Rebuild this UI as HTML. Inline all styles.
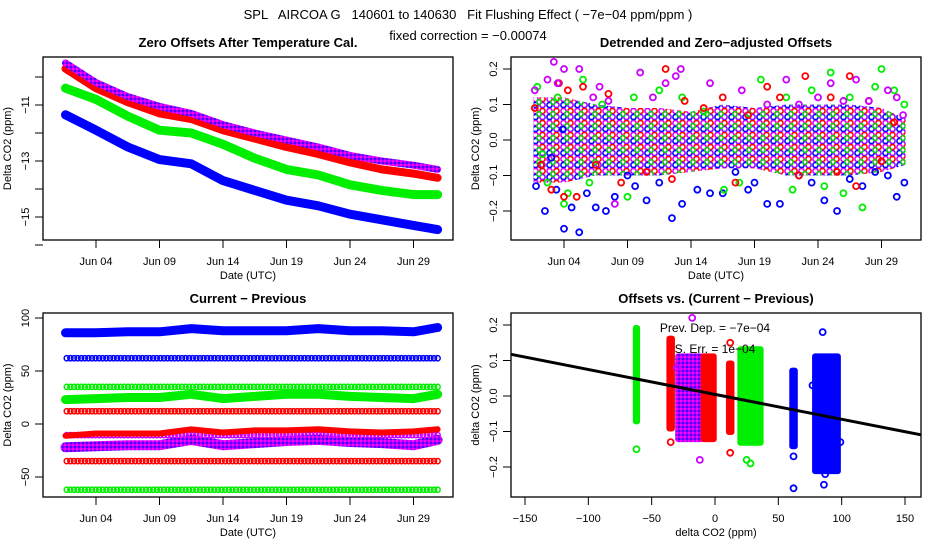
<!DOCTYPE html>
<html><head><meta charset="utf-8">
<style>
html,body{margin:0;padding:0;background:#fff;}
svg{display:block;font-family:"Liberation Sans",sans-serif;}
</style></head>
<body>
<svg id="chart" width="936" height="540" viewBox="0 0 936 540" xmlns="http://www.w3.org/2000/svg">
<defs>
<pattern id="purp" width="4" height="4" patternUnits="userSpaceOnUse">
<rect width="4" height="4" fill="#b000ff"/><rect width="2" height="2" fill="#ff00ff"/><rect x="2" y="2" width="2" height="2" fill="#4a00ff"/>
</pattern>
<pattern id="cloud" width="14" height="12" patternUnits="userSpaceOnUse">
<rect width="14" height="12" fill="#fff"/>
<circle cx="3.5" cy="3" r="2.6" fill="none" stroke="#cc00ff" stroke-width="1.6"/>
<circle cx="10.5" cy="3" r="2.6" fill="none" stroke="#ff0000" stroke-width="1.6"/>
<circle cx="3.5" cy="9" r="2.6" fill="none" stroke="#0000ff" stroke-width="1.6"/>
<circle cx="10.5" cy="9" r="2.6" fill="none" stroke="#9900ff" stroke-width="1.6"/>
<circle cx="7" cy="6" r="2.4" fill="none" stroke="#00dd00" stroke-width="1.4"/>
</pattern>
</defs>
<text x="468" y="19" font-size="13" text-anchor="middle" xml:space="preserve">SPL   AIRCOA G   140601 to 140630   Fit Flushing Effect ( −7e−04 ppm/ppm )</text>
<text x="468" y="40" font-size="13" text-anchor="middle">fixed correction = −0.00074</text>
<g id="g"></g>
</svg>
<script>
// ---------- Panel 1: Zero offsets after temperature cal ----------
const p1Days = [1.6, 4, 6.5, 9, 11.5, 14, 16.5, 19, 21.5, 24, 26.5, 29, 30.9];
const p1Purple = [-9.5, -10.2, -10.7, -11.05, -11.3, -11.7, -12.0, -12.25, -12.5, -12.8, -13.0, -13.15, -13.3];
const p1Red = [-9.7, -10.4, -10.9, -11.3, -11.5, -11.9, -12.2, -12.5, -12.75, -13.05, -13.3, -13.45, -13.6];
const p1Green = [-10.4, -10.8, -11.4, -11.9, -12.0, -12.4, -12.9, -13.3, -13.5, -13.85, -14.05, -14.2, -14.2];
const p1Blue = [-11.35, -11.9, -12.5, -12.95, -13.1, -13.7, -14.05, -14.4, -14.6, -14.9, -15.1, -15.3, -15.45];
const p1YTicks = [-16, -15, -14, -13, -12, -11, -10];
const p1YLabels = ["", "−15", "", "−13", "", "−11", ""];
const dateTicks = [4, 9, 14, 19, 24, 29];
const dateLabels = ["Jun 04", "Jun 09", "Jun 14", "Jun 19", "Jun 24", "Jun 29"];

// ---------- Panel 2: Detrended ----------
const cloudDays = [1.6, 4, 6.5, 9, 11.5, 14, 16.5, 19, 21.5, 24, 26.5, 29, 30.9];
const cloudHi = [0.12, 0.12, 0.1, 0.09, 0.09, 0.08, 0.1, 0.09, 0.1, 0.1, 0.1, 0.09, 0.06];
const cloudLo = [-0.12, -0.12, -0.1, -0.1, -0.1, -0.09, -0.08, -0.08, -0.1, -0.1, -0.1, -0.09, -0.07];
const blueD = [1.8,2.2,2.5,3.0,3.4,3.9,4.0,4.6,5.2,5.8,6.5,7.3,8.0,9.0,9.6,10.5,11.5,12.5,13.3,14.5,15.5,16.5,17.5,18.5,19.0,20.0,21.0,22.5,23.5,24.5,25.5,26.5,27.5,28.5,29.5,30.2,30.8];
const blueV = [-0.13,-0.07,-0.2,-0.05,-0.14,0.03,-0.25,-0.19,-0.26,-0.15,-0.19,-0.2,-0.16,-0.1,-0.13,-0.17,-0.12,-0.22,-0.18,-0.14,-0.15,-0.15,-0.09,-0.14,-0.12,-0.18,-0.18,-0.1,-0.12,-0.17,-0.2,-0.11,-0.13,-0.09,-0.1,-0.16,-0.12];
const greenD = [1.9,2.3,2.7,3.5,4.0,4.3,5.5,6.0,7.0,9.0,9.5,11.5,13.3,15.0,16.6,17.8,19.5,21.5,22.0,23.5,24.5,25.0,26.0,26.5,27.5,28.5,29.0,30.0,30.8];
const greenV = [0.15,-0.04,-0.12,0.12,-0.18,-0.15,0.17,-0.12,0.1,-0.16,0.12,0.14,0.12,0.08,-0.14,-0.12,0.17,0.12,-0.14,0.14,-0.13,0.19,-0.15,0.12,-0.19,0.15,0.2,0.14,0.1];
const redD = [1.7,2.2,3.0,3.6,4.0,4.3,5.0,5.5,6.5,7.5,8.5,10.5,12.0,12.5,13.5,15.0,16.5,17.5,18.5,20.0,21.0,22.5,23.0,25.0,25.5,26.5,27.0,28.0,29.0,30.0];
const redV = [0.09,-0.07,-0.14,0.16,-0.16,0.14,-0.16,0.15,-0.07,0.13,-0.12,-0.09,0.2,-0.11,0.11,0.09,0.12,-0.12,0.07,0.15,0.12,-0.1,0.18,0.12,-0.09,0.18,-0.13,0.11,-0.06,0.05];
const purpleD = [1.7,2.7,3.2,3.5,4.0,5.2,6.3,6.8,7.5,8.0,10.0,11.0,12.0,12.8,13.2,15.5,18.0,20.0,21.5,22.5,24.0,25.0,26.0,27.0,28.0,29.5,30.2,30.7];
const purpleV = [0.14,0.17,0.22,0.16,0.2,0.2,0.12,0.15,0.11,-0.18,0.19,0.12,0.16,0.18,0.2,0.16,0.14,0.1,0.17,0.1,0.12,0.16,0.11,0.17,0.11,0.14,0.12,0.07];
const p2YTicks = [-0.2, -0.1, 0.0, 0.1, 0.2];
const p2YLabels = ["−0.2", "−0.1", "0.0", "0.1", "0.2"];

// ---------- Panel 3: Current - Previous ----------
const p3Days = [1.6, 4, 6.5, 9, 11.5, 14, 16.5, 19, 21.5, 24, 26.5, 29, 30.9];
const p3BlueWavy = [86, 86, 87, 87, 90, 88, 88, 88, 90, 88, 88, 87, 91];
const p3GreenWavy = [23, 24, 25, 25, 28, 24, 26, 28, 28, 26, 25, 24, 28];
const p3RedWavy = [-11, -9, -9, -9, -5, -8, -6, -6, -5, -7, -8, -7, -5];
const p3PurpleWavy = [-22, -21, -20, -20, -15, -20, -18, -16, -15, -17, -18, -20, -15];
const p3ConstLevels = [62, 35, 12, -10.5, -35, -62];
const p3ConstColors = ["#0000ff", "#00ee00", "#ff0000", "#cc00ff", "#ff0000", "#00ee00"];
const p3YTicks = [-50, 0, 50, 100];
const p3YLabels = ["−50", "0", "50", "100"];

// ---------- Panel 4: Offsets vs (Current - Previous) ----------
const clusterX = [-62, -35, -20, -5, 12, 28, 62, 88];
const clusterSpread = [1, 2, 18, 8, 2, 16, 2, 18];
const clusterLo = [-0.08, -0.1, -0.13, -0.13, -0.11, -0.14, -0.15, -0.22];
const clusterHi = [0.2, 0.17, 0.12, 0.12, 0.1, 0.14, 0.08, 0.12];
const clusterColor = ["#00ee00", "#ff0000", "url(#purp)", "#ff0000", "#ff0000", "#00ee00", "#0000ff", "#0000ff"];
const outX = [-62, -35, -30, -12, -18, 12, 12, 25, 28, 62, 62, 85, 86, 87, 99, 77];
const outY = [-0.15, -0.13, 0.08, -0.18, 0.22, -0.16, 0.15, -0.18, -0.19, -0.17, -0.26, 0.18, -0.25, -0.22, -0.13, 0.03];
const outC = ["#00ee00","#ff0000","#cc00ff","#cc00ff","#cc00ff","#ff0000","#ff0000","#00ee00","#00ee00","#0000ff","#0000ff","#0000ff","#0000ff","#0000ff","#0000ff","#0000ff"];
const fitSlope = -7e-4;
const fitIntercept = 0.004;
const p4XTicks = [-150, -100, -50, 0, 50, 100, 150];
const p4XLabels = ["−150", "−100", "−50", "0", "50", "100", "150"];
const p4YTicks = [-0.2, -0.1, 0.0, 0.1, 0.2];
const p4YLabels = ["−0.2", "−0.1", "0.0", "0.1", "0.2"];

const NS = "http://www.w3.org/2000/svg";
const G = document.getElementById("g");
function mk(tag, attrs, parent) {
  const e = document.createElementNS(NS, tag);
  for (const k in attrs) e.setAttribute(k, attrs[k]);
  (parent || G).appendChild(e);
  return e;
}
function dateX(off) { return d => off + 96 + (d - 4) * 12.7; }
function lin(d0, d1, r0, r1) { return v => r0 + (v - d0) / (d1 - d0) * (r1 - r0); }

function frame(name, x0, y0, x1, y1, title, xlab, ylab) {
  const g = mk("g", {});
  
  
  const r = mk("rect", {x: x0, y: y0, width: x1 - x0, height: y1 - y0, fill: "none", stroke: "#000", "stroke-width": 1.3}, g);
  
  
  const t = mk("text", {x: (x0 + x1) / 2, y: y0 - 10, "font-size": 13, "font-weight": "bold", "text-anchor": "middle"}, g);
  t.textContent = title;
  
  
  const xl = mk("text", {x: (x0 + x1) / 2, y: y1 + 39, "font-size": 11, "text-anchor": "middle"}, g);
  xl.textContent = xlab;
  
  
  const cy = (y0 + y1) / 2;
  const yl = mk("text", {x: x0 - 32, y: cy, "font-size": 11, "text-anchor": "middle", transform: `rotate(-90 ${x0 - 32} ${cy})`}, g);
  yl.textContent = ylab;
  
  
  return g;
}
function xAxis(g, ticks, labels, sx, y1) {
  ticks.forEach((v, i) => {
    const x = sx(v);
    mk("line", {x1: x, x2: x, y1: y1, y2: y1 + 8, stroke: "#000"}, g);
    const t = mk("text", {x: x, y: y1 + 25, "font-size": 11, "text-anchor": "middle"}, g);
    t.textContent = labels[i];
    
    
  });
}
function yAxis(g, ticks, labels, sy, x0) {
  ticks.forEach((v, i) => {
    const y = sy(v);
    mk("line", {x1: x0 - 8, x2: x0, y1: y, y2: y, stroke: "#000"}, g);
    if (labels[i]) {
      const t = mk("text", {x: x0 - 14, y: y, "font-size": 11, "text-anchor": "middle", transform: `rotate(-90 ${x0 - 14} ${y})`}, g);
      t.textContent = labels[i];
      
      
    }
  });
}
function band(g, name, xs, ys, sx, sy, color, w) {
  const pts = xs.map((d, i) => sx(d).toFixed(1) + "," + sy(ys[i]).toFixed(1)).join(" ");
  const p = mk("polyline", {points: pts, fill: "none", stroke: color, "stroke-width": w, "stroke-linejoin": "round", "stroke-linecap": "round"}, g);
  
  
}
function pts(g, name, xs, ys, sx, sy, color) {
  xs.forEach((d, i) => {
    const c = mk("circle", {cx: sx(d), cy: sy(ys[i]), r: 3, fill: "none", stroke: color, "stroke-width": 1.8}, g);
    
    
  });
}

// Panel 1
{
  const x0 = 43, x1 = 453, y0 = 57, y1 = 240;
  const sx = dateX(0), sy = lin(-11, -13, 105, 161);
  const g = frame("panel-zero-offsets", x0, y0, x1, y1, "Zero Offsets After Temperature Cal.", "Date (UTC)", "Delta CO2 (ppm)");
  xAxis(g, dateTicks, dateLabels, sx, y1);
  yAxis(g, p1YTicks, p1YLabels, sy, x0);
  band(g, "series-blue", p1Days, p1Blue, sx, sy, "#0000ff", 9);
  band(g, "series-green", p1Days, p1Green, sx, sy, "#00ee00", 9);
  band(g, "series-red", p1Days, p1Red, sx, sy, "#ff0000", 8);
  band(g, "series-purple", p1Days, p1Purple, sx, sy, "url(#purp)", 7);
}
// Panel 2
{
  const off = 468, x0 = 511, x1 = 921, y0 = 57, y1 = 240;
  const sx = dateX(off), sy = lin(0, 0.2, 140, 69);
  const g = frame("panel-detrended", x0, y0, x1, y1, "Detrended and Zero−adjusted Offsets", "Date (UTC)", "Delta CO2 (ppm)");
  xAxis(g, dateTicks, dateLabels, sx, y1);
  yAxis(g, p2YTicks, p2YLabels, sy, x0);
  const top = cloudDays.map((d, i) => sx(d) + "," + sy(cloudHi[i]));
  const bot = cloudDays.map((d, i) => sx(d) + "," + sy(cloudLo[i])).reverse();
  const cl = mk("polygon", {points: top.concat(bot).join(" "), fill: "url(#cloud)"}, g);
  
  
  pts(g, "point-blue", blueD, blueV, sx, sy, "#0000ff");
  pts(g, "point-green", greenD, greenV, sx, sy, "#00ee00");
  pts(g, "point-red", redD, redV, sx, sy, "#ff0000");
  pts(g, "point-purple", purpleD, purpleV, sx, sy, "#cc00ff");
}
// Panel 3
{
  const x0 = 43, x1 = 453, y0 = 313, y1 = 497;
  const sx = dateX(0), sy = lin(0, 100, 424, 318);
  const g = frame("panel-current-minus-previous", x0, y0, x1, y1, "Current − Previous", "Date (UTC)", "Delta CO2 (ppm)");
  xAxis(g, dateTicks, dateLabels, sx, y1);
  yAxis(g, p3YTicks, p3YLabels, sy, x0);
  p3ConstLevels.forEach((lv, i) => {
    for (let x = sx(1.7); x <= sx(30.9); x += 3.6) {
      const c = mk("circle", {cx: x, cy: sy(lv), r: 2.6, fill: "none", stroke: p3ConstColors[i], "stroke-width": 1.5}, g);
      
      
    }
  });
  band(g, "series-blue-wavy", p3Days, p3BlueWavy, sx, sy, "#0000ff", 9);
  band(g, "series-green-wavy", p3Days, p3GreenWavy, sx, sy, "#00ee00", 9);
  band(g, "series-purple-wavy", p3Days, p3PurpleWavy, sx, sy, "url(#purp)", 10);
  band(g, "series-red-wavy", p3Days, p3RedWavy, sx, sy, "#ff0000", 6);
}
// Panel 4
{
  const x0 = 511, x1 = 921, y0 = 313, y1 = 497;
  const sx = lin(0, 150, 715, 905), sy = lin(0, 0.2, 396, 325);
  const g = frame("panel-offsets-vs-diff", x0, y0, x1, y1, "Offsets vs. (Current − Previous)", "delta CO2 (ppm)", "delta CO2 (ppm)");
  xAxis(g, p4XTicks, p4XLabels, sx, y1);
  yAxis(g, p4YTicks, p4YLabels, sy, x0);
  clusterX.forEach((cx, i) => {
    const xa = sx(cx - clusterSpread[i] / 2) - 3, xb = sx(cx + clusterSpread[i] / 2) + 3;
    const r = mk("rect", {x: xa, y: sy(clusterHi[i]), width: xb - xa, height: sy(clusterLo[i]) - sy(clusterHi[i]), rx: 3, fill: clusterColor[i]}, g);
    
    
  });
  pts(g, "outlier-point", outX, outY, sx, sy, "#000");
  Array.from(g.querySelectorAll('circle')).forEach((c, i) => c.setAttribute('stroke', outC[i]));
  const xa = -162, xb = 162;
  const ln = mk("line", {x1: x0, y1: sy(fitIntercept + fitSlope * xa), x2: x1, y2: sy(fitIntercept + fitSlope * xb), stroke: "#000", "stroke-width": 3}, g);
  
  
  const t1 = mk("text", {x: 715, y: 332, "font-size": 12, "text-anchor": "middle"}, g);
  t1.textContent = "Prev. Dep. =  −7e−04";
  
  
  const t2 = mk("text", {x: 715, y: 353, "font-size": 12, "text-anchor": "middle"}, g);
  t2.textContent = "S. Err. =  1e−04";
  
  
}
</script>
</body></html>
